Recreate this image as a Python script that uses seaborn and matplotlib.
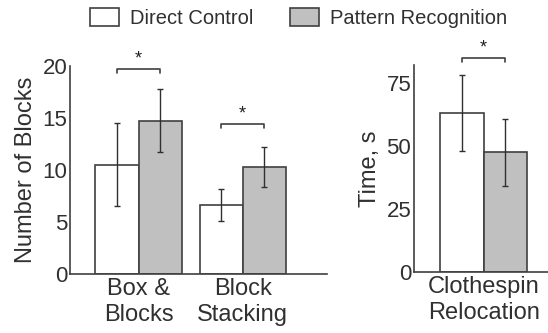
import numpy as np
import pandas as pd
import matplotlib
matplotlib.use("Agg")
import matplotlib.pyplot as plt
import seaborn as sns
from matplotlib.patches import Patch

sns.set_theme(style="white")
plt.rcParams["font.family"] = ["Liberation Sans", "DejaVu Sans"]

# data
conditions = ["Direct Control", "Pattern Recognition"]
block_tasks = ["Box &\nBlocks", "Block\nStacking"]
block_direct = [10.5, 6.6]
block_direct_err = [4.0, 1.55]
block_pattern = [14.75, 10.3]
block_pattern_err = [3.05, 1.95]
block_sig_height = [19.7, 14.4]

time_tasks = ["Clothespin\nRelocation"]
time_direct = [63.0]
time_direct_err = [15.0]
time_pattern = [47.4]
time_pattern_err = [13.2]
time_sig_height = [84.8]

EDGE = "#404040"
palette = {"Direct Control": "white", "Pattern Recognition": "#c0c0c0"}


def long_frame(tasks, direct, pattern):
    return pd.DataFrame({
        "task": tasks * 2,
        "condition": [conditions[0]] * len(tasks) + [conditions[1]] * len(tasks),
        "value": list(direct) + list(pattern),
    })


def draw_panel(ax, tasks, direct, direct_err, pattern, pattern_err, sig, tick_drop):
    df = long_frame(tasks, direct, pattern)
    sns.barplot(data=df, x="task", y="value", hue="condition", palette=palette,
                order=tasks, hue_order=conditions, errorbar=None, width=0.83,
                edgecolor=EDGE, linewidth=1.2, legend=False, ax=ax)
    centers = []
    for cont, vals, errs in zip(ax.containers, [direct, pattern], [direct_err, pattern_err]):
        xs = [b.get_x() + b.get_width() / 2 for b in cont]
        centers.append(xs)
        ax.errorbar(xs, vals, yerr=errs, fmt="none", ecolor="#303030",
                    elinewidth=1.0, capsize=2.5, capthick=1.0, zorder=5)
    for x1, x2, h in zip(centers[0], centers[1], sig):
        ax.plot([x1, x1, x2, x2], [h - tick_drop, h, h, h - tick_drop],
                color=EDGE, lw=1.2, clip_on=False)
        ax.annotate("*", xy=((x1 + x2) / 2, h), xytext=(0, 1), textcoords="offset points",
                    ha="center", va="bottom", fontsize=13, color="#202020",
                    annotation_clip=False)
    for s in ["top", "right"]:
        ax.spines[s].set_visible(False)
    for s in ["left", "bottom"]:
        ax.spines[s].set_color(EDGE)
        ax.spines[s].set_linewidth(1.2)
    ax.tick_params(axis="both", length=0, colors="#303030")
    ax.tick_params(axis="y", labelsize=16, pad=2)
    ax.tick_params(axis="x", labelsize=17, pad=3)
    ax.set_xlabel("")


fig = plt.figure(figsize=(5.48, 3.33), dpi=100)
ax1 = fig.add_axes([70 / 548, 1 - 274 / 333, 257 / 548, 208 / 333])
ax2 = fig.add_axes([414 / 548, 1 - 272 / 333, 134 / 548, 207 / 333])

draw_panel(ax1, block_tasks, block_direct, block_direct_err,
           block_pattern, block_pattern_err, block_sig_height, 0.4)
ax1.set_ylim(0, 20)
ax1.set_yticks([0, 5, 10, 15, 20])
ax1.set_xlim(-0.66, 1.81)
ax1.set_ylabel("Number of Blocks", fontsize=17, color="#303030", labelpad=4)

draw_panel(ax2, time_tasks, time_direct, time_direct_err,
           time_pattern, time_pattern_err, time_sig_height, 1.5)
ax2.set_ylim(0, 82)
ax2.set_yticks([0, 25, 50, 75])
ax2.set_xlim(-0.67, 0.62)
ax2.set_ylabel("Time, s", fontsize=17, color="#303030", labelpad=4)

handles = [Patch(facecolor=palette[c], edgecolor=EDGE, linewidth=1.2, label=c) for c in conditions]
fig.legend(handles=handles, loc="center left", bbox_to_anchor=(90 / 548, 1 - 18 / 333),
           ncol=2, frameon=False, fontsize=14.5, handlelength=1.45, handleheight=0.95,
           handletextpad=0.55, columnspacing=1.8, borderpad=0, borderaxespad=0,
           labelcolor="#303030")

fig.savefig("out.png", dpi=100)
